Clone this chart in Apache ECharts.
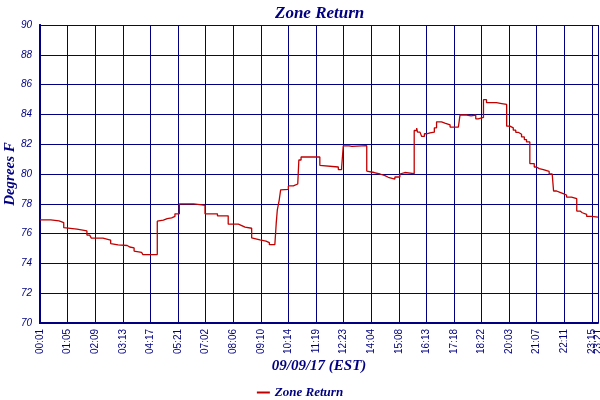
<!DOCTYPE html>
<html>
<head>
<meta charset="utf-8">
<script src="https://cdn.jsdelivr.net/npm/echarts@6/dist/echarts.min.js"></script>
<style>
  html, body { margin: 0; padding: 0; background: #fff; }
  #chart { width: 600px; height: 400px; }
</style>
</head>
<body>
<div id="chart"></div>
<script>
// tick labels, one per tick index (the last one sits at the right edge)
var tickLabels = ['00:01', '01:05', '02:09', '03:13', '04:17', '05:21', '07:02', '08:06', '09:10', '10:14',
  '11:19', '12:23', '14:04', '15:08', '16:13', '17:18', '18:22', '20:03', '21:07', '22:11', '23:15', '23:21'];
var lastTick = 20.22;

// step changes: [position in tick units, degrees F]
var zoneReturn = [
  [0, 76.92], [0.39, 76.85], [0.69, 76.74], [0.86, 76.4], [0.92, 76.3], [1.34, 76.18],
  [1.70, 75.9], [1.80, 75.78], [1.86, 75.7], [2.28, 75.57], [2.56, 75.33], [2.63, 75.24],
  [2.83, 75.2], [3.16, 75.1], [3.25, 75.04], [3.41, 74.83], [3.46, 74.74], [3.68, 74.68],
  [3.73, 74.59], [4.25, 76.83], [4.32, 76.9], [4.47, 77.0], [4.61, 77.05], [4.77, 77.15],
  [4.89, 77.33], [5.05, 78.0], [5.56, 77.95], [5.8, 77.89], [5.98, 77.33], [6.43, 77.19],
  [6.82, 76.63], [7.19, 76.54], [7.31, 76.43], [7.43, 76.36], [7.67, 75.71], [7.73, 75.58],
  [7.97, 75.5], [8.19, 75.4], [8.31, 75.26], [8.51, 75.26], [8.53, 75.82], [8.56, 76.7],
  [8.60, 77.6], [8.67, 78.27], [8.72, 78.94], [8.75, 78.97], [9.0, 79.2], [9.18, 79.33],
  [9.34, 79.4], [9.38, 80.94], [9.46, 81.14], [10.14, 80.58], [10.2, 80.47], [10.81, 80.3],
  [10.93, 80.45], [10.99, 81.89], [11.2, 81.85], [11.3, 81.9], [11.84, 80.2], [11.9, 80.1],
  [12.11, 80.0], [12.32, 79.89], [12.5, 79.78], [12.62, 79.66], [12.86, 79.8], [13.04, 80.0],
  [13.1, 80.1], [13.22, 80.02], [13.56, 82.92], [13.65, 83.08], [13.68, 82.81], [13.77, 82.7],
  [13.83, 82.52], [13.93, 82.7], [14.01, 82.76], [14.13, 82.81], [14.29, 83.1], [14.37, 83.5],
  [14.55, 83.42], [14.67, 83.3], [14.86, 83.15], [15.16, 83.04], [15.22, 83.96], [15.46, 83.9],
  [15.62, 83.96], [15.79, 83.7], [15.88, 83.8], [16.07, 84.99], [16.18, 84.79], [16.54, 84.73],
  [16.73, 84.67], [16.91, 83.21], [17.03, 83.1], [17.15, 82.94], [17.24, 82.8], [17.33, 82.67],
  [17.45, 82.49], [17.55, 82.31], [17.63, 82.15], [17.75, 80.7], [17.91, 80.47], [17.99, 80.36],
  [18.09, 80.29], [18.24, 80.17], [18.45, 80.0], [18.56, 79.9], [18.61, 78.86], [18.72, 78.77],
  [18.84, 78.68], [18.96, 78.59], [19.08, 78.45], [19.26, 78.34], [19.45, 77.51], [19.57, 77.4],
  [19.65, 77.29], [19.81, 77.15], [19.99, 77.1], [20.22, 77.1]
];

var navy = '#000080';
var serif = '"Liberation Serif", serif';
var sans = '"Liberation Sans", Arial, sans-serif';

function tickText(v) {
  return v > 20.1 ? tickLabels[21] : tickLabels[Math.round(v)];
}

var chart = echarts.init(document.getElementById('chart'));
var option = {
  animation: false,
  title: {
    text: 'Zone Return',
    left: 270,
    top: 0,
    textStyle: { color: navy, fontFamily: serif, fontStyle: 'italic', fontWeight: 'bold', fontSize: 17 }
  },
  legend: {
    data: ['Zone Return'],
    left: 'center',
    top: 381,
    icon: 'rect',
    itemWidth: 13,
    itemHeight: 2,
    itemGap: 4,
    textStyle: { color: navy, fontFamily: serif, fontStyle: 'italic', fontWeight: 'bold', fontSize: 13 }
  },
  grid: { left: 40, right: 2, top: 25, bottom: 77, outerBoundsMode: 'none', containLabel: false },
  xAxis: [{
    type: 'value',
    min: 0,
    max: lastTick,
    interval: 1,
    name: '09/09/17 (EST)',
    nameLocation: 'middle',
    nameGap: 36,
    nameMoveOverlap: false,
    nameTextStyle: { color: navy, fontFamily: serif, fontStyle: 'italic', fontWeight: 'bold', fontSize: 15 },
    axisLine: { lineStyle: { color: navy, width: 2 } },
    axisTick: { show: false },
    splitLine: { show: true, lineStyle: { color: navy, width: 1 } },
    axisLabel: {
      rotate: 90,
      margin: 6,
      color: navy,
      fontFamily: sans,
      fontSize: 10,
      showMinLabel: true,
      showMaxLabel: false,
      formatter: tickText
    }
  }, {
    // only carries the end label at the right edge
    type: 'value',
    position: 'bottom',
    min: 0,
    max: lastTick,
    axisLine: { show: false },
    axisTick: { show: false },
    splitLine: { show: false },
    axisLabel: {
      rotate: 90,
      margin: 6,
      color: navy,
      fontFamily: sans,
      fontSize: 10,
      customValues: [lastTick],
      formatter: tickText
    }
  }],
  yAxis: [{
    type: 'value',
    min: 70,
    max: 90,
    interval: 2,
    name: 'Degrees F',
    nameLocation: 'middle',
    nameGap: 22,
    nameMoveOverlap: false,
    nameTextStyle: { color: navy, fontFamily: serif, fontStyle: 'italic', fontWeight: 'bold', fontSize: 15 },
    axisLine: { show: true, lineStyle: { color: navy, width: 2 } },
    axisTick: { show: false },
    splitLine: { lineStyle: { color: navy, width: 1 } },
    axisLabel: {
      margin: 8,
      color: navy,
      fontFamily: sans,
      fontStyle: 'italic',
      fontSize: 10
    }
  }, {
    type: 'value',
    min: 70,
    max: 90,
    position: 'right',
    axisLine: { show: true, lineStyle: { color: navy, width: 2 } },
    axisTick: { show: false },
    axisLabel: { show: false },
    splitLine: { show: false }
  }],
  series: [{
    name: 'Zone Return',
    type: 'line',
    step: 'end',
    data: zoneReturn,
    showSymbol: false,
    lineStyle: { color: '#c00000', width: 1.3 },
    itemStyle: { color: '#c00000' }
  }]
};
chart.setOption(option);
</script>
</body>
</html>
